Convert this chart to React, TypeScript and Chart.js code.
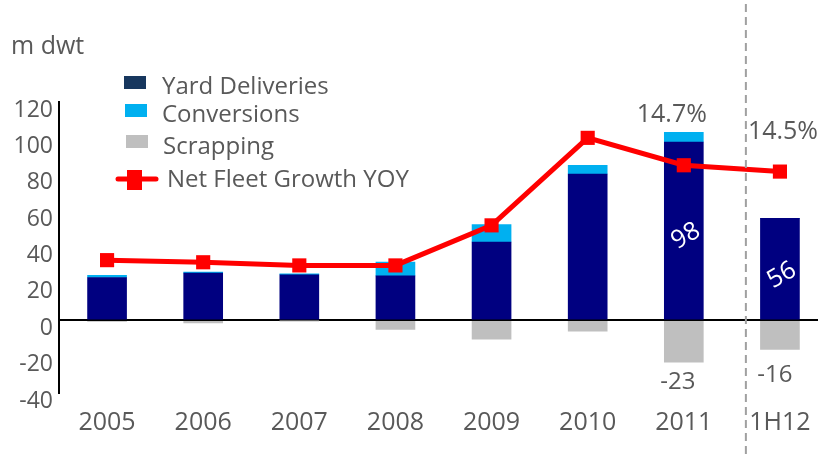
import React, { useEffect, useRef } from "react";
import { Chart, registerables } from "chart.js";

Chart.register(...registerables);

const categories = ["2005", "2006", "2007", "2008", "2009", "2010", "2011", "1H12"];
const yardDeliveries = [23.5, 26, 25, 24.4, 43, 80.4, 98, 56];
const conversions = [1.2, 0.5, 0.5, 7.6, 9.6, 4.8, 5.3, 0];
const scrapping = [-0.6, -1.5, -0.3, -5.1, -10.4, -6, -23, -16];
const netFleetGrowth = [5.7, 5.5, 5.2, 5.2, 9.0, 17.3, 14.7, 14.1];
const yTicks = [-40, -20, 0, 20, 40, 60, 80, 100, 120];

const seriesNames = ["Yard Deliveries", "Conversions", "Scrapping", "Net Fleet Growth YOY"];
const unitLabel = "m dwt";
const growthLabels = ["14.7%", "14.5%"];
const growthLabelIndex = [6, 7];
const barValueLabelIndex = [6, 7];
const scrapLabelIndex = [6, 7];

const FONT = "'Open Sans', Lato, sans-serif";
const GREY = "#595959";

const overlayPlugin = {
  id: "overlay",
  afterDatasetsDraw(chart: any) {
    const ctx = chart.ctx;
    const x = chart.scales.x;
    const y = chart.scales.y;
    ctx.save();

    // dashed separator between 2011 and 1H12
    const sepX = (x.getPixelForValue(6) + x.getPixelForValue(7)) / 2 + 14;
    ctx.strokeStyle = "#A0A0A0";
    ctx.lineWidth = 2;
    ctx.setLineDash([8, 5]);
    ctx.beginPath();
    ctx.moveTo(sepX, 4);
    ctx.lineTo(sepX, chart.height);
    ctx.stroke();
    ctx.setLineDash([]);

    // unit label
    ctx.fillStyle = GREY;
    ctx.font = `25px ${FONT}`;
    ctx.textAlign = "left";
    ctx.textBaseline = "middle";
    ctx.fillText(unitLabel, 11, 47);

    // legend
    ctx.font = `24px ${FONT}`;
    const swatches = ["#17375E", "#00B0F0", "#BFBFBF"];
    const sy = [76, 104, 135];
    const ty = [87, 115, 147];
    const tx = [162, 162, 163];
    for (let i = 0; i < 3; i++) {
      ctx.fillStyle = swatches[i];
      ctx.fillRect(124 + i, sy[i], 22, 13);
      ctx.fillStyle = GREY;
      ctx.fillText(seriesNames[i], tx[i], ty[i]);
    }
    ctx.strokeStyle = "#FF0000";
    ctx.lineWidth = 5;
    ctx.lineCap = "round";
    ctx.beginPath();
    ctx.moveTo(118, 179);
    ctx.lineTo(156, 179);
    ctx.stroke();
    ctx.fillStyle = "#FF0000";
    ctx.fillRect(127, 170, 15, 20);
    ctx.fillStyle = GREY;
    ctx.fillText(seriesNames[3], 167, 180);

    // growth % labels
    ctx.font = `25px ${FONT}`;
    ctx.textAlign = "center";
    const gx = [x.getPixelForValue(growthLabelIndex[0]) - 12, x.getPixelForValue(growthLabelIndex[1]) + 5];
    const gy = [y.getPixelForValue(112.7), y.getPixelForValue(103.5)];
    ctx.fillText(growthLabels[0], gx[0], gy[0]);
    ctx.textAlign = "left";
    ctx.fillText(growthLabels[1], sepX + 2, gy[1]);

    // scrapping labels
    ctx.font = `24px ${FONT}`;
    ctx.textAlign = "center";
    const sOff = [20, 26];
    const sxOff = [-6, -5];
    scrapLabelIndex.forEach((idx, k) => {
      ctx.fillText(
        String(Math.round(scrapping[idx])),
        x.getPixelForValue(idx) + sxOff[k],
        y.getPixelForValue(scrapping[idx]) + sOff[k]
      );
    });

    // rotated white value labels inside bars
    ctx.fillStyle = "#FFFFFF";
    ctx.font = `25px ${FONT}`;
    const vOff = [5, 6];
    barValueLabelIndex.forEach((idx, k) => {
      const cx = x.getPixelForValue(idx) + 2;
      const cy = y.getPixelForValue(yardDeliveries[idx] / 2) + vOff[k];
      ctx.save();
      ctx.translate(cx, cy);
      ctx.rotate(-Math.PI / 6);
      ctx.textAlign = "center";
      ctx.textBaseline = "middle";
      ctx.fillText(String(Math.round(yardDeliveries[idx])), 0, 0);
      ctx.restore();
    });

    ctx.restore();
  },
};

export default function App() {
  const ref = useRef<HTMLCanvasElement | null>(null);

  useEffect(() => {
    if (!ref.current) return;
    const chart = new Chart(ref.current, {
      type: "bar",
      data: {
        labels: categories,
        datasets: [
          {
            type: "bar",
            label: seriesNames[0],
            data: yardDeliveries,
            backgroundColor: "#000080",
            borderWidth: 0,
            barThickness: 39,
            order: 1,
            yAxisID: "y",
          },
          {
            type: "bar",
            label: seriesNames[1],
            data: conversions,
            backgroundColor: "#00B0F0",
            borderWidth: 0,
            barThickness: 39,
            order: 1,
            yAxisID: "y",
          },
          {
            type: "bar",
            label: seriesNames[2],
            data: scrapping,
            backgroundColor: "#BFBFBF",
            borderWidth: 0,
            barThickness: 39,
            order: 1,
            yAxisID: "y",
          },
          {
            type: "line",
            label: seriesNames[3],
            data: netFleetGrowth,
            borderColor: "#FF0000",
            backgroundColor: "#FF0000",
            borderWidth: 5,
            pointStyle: "rect",
            pointRadius: 10,
            pointBorderWidth: 0,
            tension: 0,
            order: 0,
            yAxisID: "y2",
          } as any,
        ],
      },
      options: {
        animation: false,
        responsive: false,
        maintainAspectRatio: false,
        layout: { padding: { top: 102, right: 12, bottom: 0, left: 0 } },
        plugins: {
          legend: { display: false },
          tooltip: { enabled: false },
          title: { display: false },
        },
        scales: {
          x: {
            stacked: true,
            grid: { display: false, drawTicks: false },
            border: { display: false },
            ticks: {
              color: GREY,
              font: { family: FONT, size: 25 },
              padding: 15,
              maxRotation: 0,
              autoSkip: false,
            },
            afterFit: (s: any) => {
              s.height = 65;
            },
          },
          y: {
            stacked: true,
            min: -40,
            max: 120,
            afterBuildTicks: (s: any) => {
              s.ticks = yTicks.map((v) => ({ value: v }));
            },
            grid: {
              drawTicks: false,
              lineWidth: 2,
              color: (c: any) => (c.tick && c.tick.value === 0 ? "#000000" : "rgba(0,0,0,0)"),
            },
            border: { display: true, color: "#000000", width: 2 },
            ticks: {
              color: GREY,
              font: { family: FONT, size: 23 },
              padding: 6,
              labelOffset: 8,
            },
            afterFit: (s: any) => {
              s.width = 59;
            },
          },
          y2: {
            display: false,
            min: -6.9,
            max: 20.7,
          },
        },
      },
      plugins: [overlayPlugin],
    });
    return () => chart.destroy();
  }, []);

  return (
    <div style={{ position: "absolute", left: 0, top: 0, width: 818, height: 458, overflow: "hidden", background: "#fff" }}>
      <canvas ref={ref} width={840} height={458} style={{ width: 840, height: 458, display: "block" }} />
    </div>
  );
}
